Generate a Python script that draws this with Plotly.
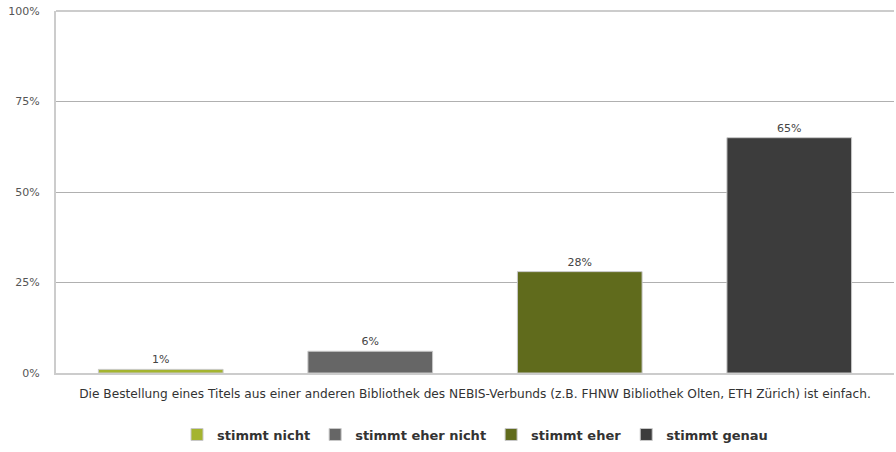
import plotly.graph_objects as go

category = ["Die Bestellung eines Titels aus einer anderen Bibliothek des NEBIS-Verbunds (z.B. FHNW Bibliothek Olten, ETH Zürich) ist einfach."]
series_names = ["stimmt nicht", "stimmt eher nicht", "stimmt eher", "stimmt genau"]
series_values = [1, 6, 28, 65]
series_colors = ["#a4b42f", "#666666", "#606b1c", "#3c3c3c"]
y_ticks = [0, 25, 50, 75, 100]
y_tick_labels = ["0%", "25%", "50%", "75%", "100%"]

fig = go.Figure()
for name, val, col in zip(series_names, series_values, series_colors):
    fig.add_trace(go.Bar(
        x=category, y=[val], name=name,
        marker=dict(color=col, line=dict(color="#c8c8c8", width=1)),
        text=[f"{val}%"], textposition="outside",
        textfont=dict(size=11, color="#444444"),
        cliponaxis=False,
    ))

fig.update_layout(
    width=896, height=452,
    margin=dict(l=56, r=2, t=11, b=77),
    paper_bgcolor="white", plot_bgcolor="white",
    barmode="group", bargap=0, bargroupgap=0.405,
    font=dict(family="DejaVu Sans", size=11, color="#444444"),
    showlegend=True,
    legend=dict(orientation="h", x=0.5, xanchor="center", y=-0.17, yanchor="middle",
                font=dict(family="DejaVu Sans", size=13, color="#333333", weight="bold"),
                itemwidth=30, traceorder="normal"),
    shapes=[dict(type="line", xref="paper", yref="paper", x0=0, x1=1, y0=1, y1=1,
                 line=dict(color="#cccccc", width=2))],
)
fig.update_yaxes(range=[0, 100], tickvals=y_ticks, ticktext=y_tick_labels,
                 showgrid=True, gridcolor="#b0b0b0", gridwidth=1,
                 showline=True, linecolor="#cccccc", linewidth=2,
                 zeroline=False, ticks="", ticklen=0, ticklabelstandoff=12,
                 tickfont=dict(size=11, color="#555555"))
fig.update_xaxes(showline=True, linecolor="#cccccc", linewidth=2,
                 showgrid=False, ticks="", ticklabelstandoff=8,
                 tickfont=dict(family="DejaVu Sans", size=12.2, color="#333333"))

fig.write_html("out.html")
